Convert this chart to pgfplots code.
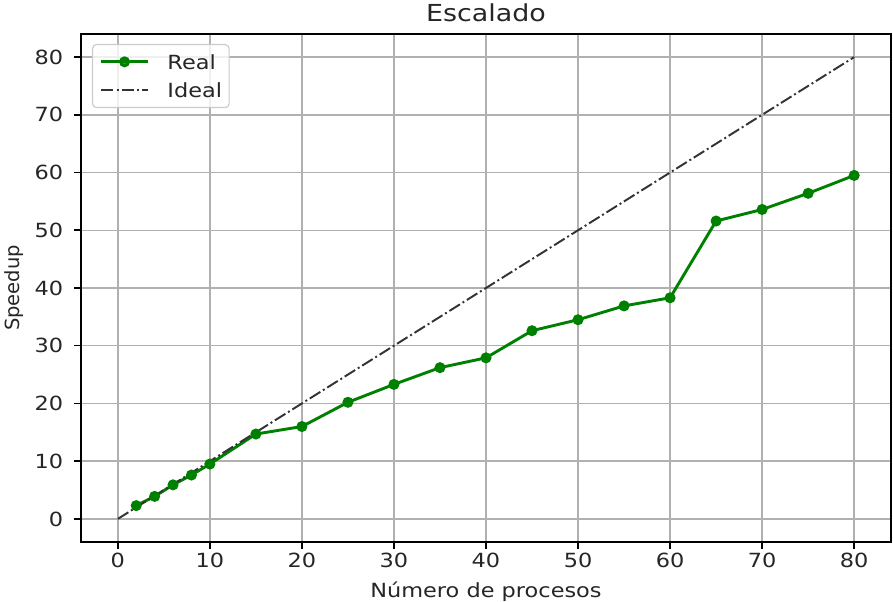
\documentclass[border=0pt]{standalone}
\usepackage{fontspec}
\setmainfont{DejaVu Sans}[FakeStretch=1.15]
\newfontfamily\ylfont{DejaVu Sans}
\usepackage{pgfplots}
\pgfplotsset{compat=1.18}
\newcommand\fs{\fontsize{9.75pt}{11.7pt}\selectfont}
\definecolor{mplgreen}{RGB}{0,128,0}
\pgfplotstableread{
x y
2 2.3
4 3.9
6 5.9
8 7.6
10 9.5
15 14.7
20 16.0
25 20.2
30 23.3
35 26.2
40 27.9
45 32.6
50 34.5
55 36.9
60 38.3
65 51.6
70 53.6
75 56.4
80 59.5
}\realdata
\begin{document}
\begin{tikzpicture}
\begin{scope}[overlay]
\begin{axis}[
  at={(0,0)}, anchor=south west,
  scale only axis, width=405pt, height=254pt,
  xmin=-4, xmax=84, ymin=-4, ymax=84,
  xtick={0,10,...,80}, ytick={0,10,...,80},
  /pgf/number format/assume math mode=true,
  grid=major, major grid style={draw=black!31, line width=0.75pt},
  axis line style={line width=0.78pt, black},
  tick align=outside, tick pos=left, major tick length=3.4pt,
  every tick/.style={black, line width=0.78pt},
  tick label style={font=\fs, text=black!85},
  xticklabel style={anchor=base, inner sep=0pt, yshift=-9.6pt},
  yticklabel style={anchor=east, inner sep=0pt, xshift=-5.35pt},
  title={Escalado},
  title style={at={(axis description cs:0.5,1)}, anchor=base, inner sep=0pt, font=\fontsize{11.7pt}{14pt}\selectfont, text=black!85},
  xlabel={Número de procesos},
  xlabel style={at={([yshift=-28pt]axis description cs:0.5,0)}, anchor=base, inner sep=0pt, font=\fs, text=black!85},
  ylabel={\ylfont Speedup},
  ylabel style={at={([xshift=-30.5pt]axis description cs:0,0.5)}, anchor=base, rotate=0, inner sep=0pt, font=\fs, text=black!85},
  legend cell align=left,
  legend style={at={([xshift=5.5pt,yshift=-5pt]axis description cs:0,1)}, anchor=north west,
    draw=black!20, line width=0.6pt, rounded corners=2pt, fill=white, fill opacity=0.8, text opacity=1,
    font=\fs, text=black!85, inner xsep=3.5pt, inner ysep=5pt, row sep=7pt,
    nodes={inner sep=0pt, text height=7.25pt, text depth=0pt},
    /tikz/every odd column/.append style={column sep=9pt}},
  legend image code/.code={\draw[mark repeat=2,mark phase=2,#1] plot coordinates {(0pt,0pt) (11.75pt,0pt) (23.5pt,0pt)};},
]
\addplot[color=mplgreen, line width=1.45pt, mark=*, mark size=2pt, mark options={solid, fill=mplgreen, draw=mplgreen}] table[x=x,y=y] {\realdata};
\addlegendentry{Real}
\addplot[color=black!80, line width=0.97pt, dash pattern=on 6.2pt off 1.55pt on 1pt off 1.55pt] coordinates {(0,0) (80,80)};
\addlegendentry{Ideal}
\coordinate (sw) at (rel axis cs:0,0);
\coordinate (ne) at (rel axis cs:1,1);
\end{axis}
\end{scope}
\path ([shift={(-40.5pt,-30pt)}]sw) rectangle ([shift={(1pt,17pt)}]ne);
\end{tikzpicture}
\end{document}
